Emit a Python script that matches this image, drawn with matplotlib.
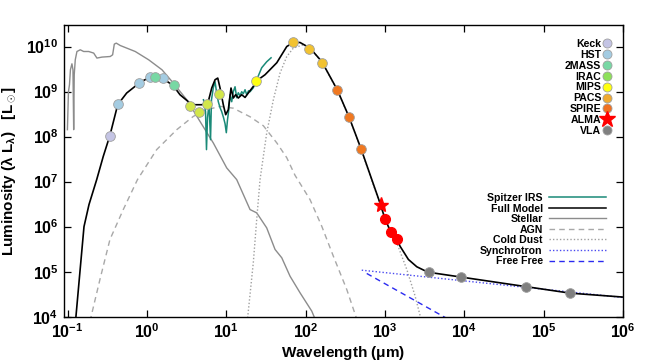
import numpy as np
import matplotlib
matplotlib.use("Agg")
import matplotlib.pyplot as plt
from matplotlib.lines import Line2D

plt.rcParams['font.family'] = ['Liberation Sans', 'DejaVu Sans']
plt.rcParams['font.weight'] = 'bold'
plt.rcParams['mathtext.fontset'] = 'custom'
plt.rcParams['mathtext.rm'] = 'Liberation Sans:bold'
plt.rcParams['mathtext.bf'] = 'Liberation Sans:bold'
plt.rcParams['mathtext.it'] = 'Liberation Sans:bold'
plt.rcParams['mathtext.default'] = 'bf'

# ---------------- photometry (wavelength in micron, luminosity in Lsun) -------------
keck_wl = [0.34]
keck_L = [1.05e8]
hst_wl = [0.43, 0.80, 1.09, 1.60]
hst_L = [5.2e8, 1.57e9, 2.05e9, 1.95e9]
twomass_wl = [1.26, 2.19]
twomass_L = [2.1e9, 1.39e9]
irac_wl = [3.48, 4.49, 5.76, 8.0]
irac_L = [4.8e8, 3.6e8, 5.37e8, 8.9e8]
mips_wl = [23.9]
mips_L = [1.71e9]
pacs_wl = [70, 110, 161]
pacs_L = [1.25e10, 8.9e9, 4.4e9]
spire_wl = [251, 352, 500]
spire_L = [1.08e9, 2.72e8, 5.3e7]
alma_wl = [885]
alma_L = [3.0e6]
mm_wl = [1000, 1183, 1410]
mm_L = [1.46e6, 7.7e5, 5.4e5]
vla_wl = [3565, 9120, 6.0e4, 2.16e5]
vla_L = [9.7e4, 7.5e4, 4.5e4, 3.4e4]

# ---------------- model curves (log10 micron, log10 Lsun) -------------
model_logwl = [-0.902, -0.895, -0.845, -0.794, -0.731, -0.634, -0.551, -0.467, -0.369, -0.256,
               -0.088, 0.038, 0.206,
               0.332, 0.416, 0.542, 0.605, 0.690, 0.744, 0.773, 0.816, 0.858, 0.892,
               0.921, 0.962, 0.992, 1.025, 1.059, 1.088, 1.118, 1.151, 1.194, 1.236,
               1.277, 1.340, 1.383, 1.488, 1.636, 1.762, 1.845, 1.929, 2.055, 2.203,
               2.400, 2.547, 2.699, 2.947, 3.001, 3.073, 3.149, 3.190, 3.295, 3.401,
               3.540, 3.968, 4.788, 5.334, 6.006]
model_logL = [3.83, 4.013, 5.0, 6.0, 6.49, 7.044, 7.561, 8.027, 8.707, 8.967,
              9.202, 9.322, 9.284,
              9.129, 8.929, 8.745, 8.707, 8.707, 8.729, 8.780, 9.078, 9.262, 9.299,
              9.078, 8.707, 8.486, 8.596, 9.078, 8.856, 8.929, 8.856, 8.929, 8.869,
              8.967, 9.113, 9.239, 9.373, 9.639, 10.000, 10.089, 10.089, 9.965, 9.667,
              9.033, 8.435, 7.725, 6.475, 6.164, 5.885, 5.730, 5.565, 5.271, 5.109,
              4.989, 4.878, 4.665, 4.523, 4.435]

stellar_logwl = [-1.003, -0.990, -0.977, -0.965, -0.946, -0.933, -0.924, -0.917, -0.904, -0.883,
                 -0.841, -0.798, -0.735, -0.672, -0.631, -0.567, -0.463, -0.433, -0.412, -0.387,
                 -0.337, -0.148, 0.021, 0.189, 0.332, 0.501, 0.668, 0.836, 1.005, 1.131,
                 1.299, 1.383, 1.509, 1.614, 1.699, 1.803, 1.929, 2.077, 2.131]
stellar_logL = [8.153, 8.996, 9.151, 9.483, 9.616, 9.483, 8.153, 9.373, 9.705, 9.889,
                9.927, 9.889, 9.889, 9.854, 9.743, 9.765, 9.778, 9.816, 10.053, 10.075,
                10.022, 9.889, 9.705, 9.483, 9.188, 8.818, 8.337, 7.858, 7.304, 7.044,
                6.379, 6.306, 5.973, 5.494, 5.308, 4.900, 4.532, 4.124, 3.896]

agn_logwl = [-0.719, -0.593, -0.467, -0.299, -0.120, 0.122, 0.375, 0.584, 0.753, 0.921,
             1.088, 1.299, 1.467, 1.636, 1.762, 1.866, 2.055, 2.203, 2.349, 2.518, 2.654]
agn_logL = [3.896, 4.827, 5.714, 6.379, 7.044, 7.710, 8.153, 8.448, 8.596, 8.670,
            8.630, 8.440, 8.240, 7.860, 7.530, 7.140, 6.601, 6.009, 5.344, 4.605, 3.896]

cold_logwl = [1.264, 1.340, 1.383, 1.425, 1.509, 1.593, 1.677, 1.762, 1.845, 1.971,
              2.055, 2.203, 2.400, 2.547, 2.699, 2.947, 3.073, 3.149, 3.275, 3.380, 3.461]
cold_logL = [3.896, 5.197, 6.157, 7.044, 8.080, 8.818, 9.410, 9.778, 9.965, 10.038,
             9.965, 9.660, 9.025, 8.425, 7.710, 6.450, 5.850, 5.641, 5.049, 4.457, 3.896]

sync_logwl = [2.707, 6.006]
sync_logL = [5.033, 4.425]

ff_logwl = [2.770, 3.846]
ff_logL = [4.960, 3.896]

irs_logwl = [0.712, 0.738, 0.750, 0.763, 0.782, 0.801, 0.813, 0.836, 0.858, 0.876,
             0.899, 0.921, 0.942, 0.965, 0.984, 1.000, 1.015, 1.028, 1.047, 1.068,
             1.088, 1.110, 1.131, 1.151, 1.173, 1.194, 1.214, 1.236, 1.257, 1.280,
             1.299, 1.340, 1.383, 1.446, 1.509, 1.564]
irs_logL = [8.818, 8.552, 7.710, 8.419, 8.729, 7.931, 8.818, 9.084, 9.217, 8.996,
            8.774, 8.641, 8.552, 8.419, 8.286, 8.086, 8.375, 8.552, 8.929, 8.774,
            8.996, 9.106, 8.863, 8.973, 8.907, 8.996, 8.951, 9.040, 8.929, 9.018,
            8.996, 9.084, 9.262, 9.528, 9.661, 9.749]

xticks = [1e-1, 1e0, 1e1, 1e2, 1e3, 1e4, 1e5, 1e6]
xticklabels = [r'$\mathbf{10^{-1}}$', r'$\mathbf{10^{0}}$', r'$\mathbf{10^{1}}$', r'$\mathbf{10^{2}}$',
               r'$\mathbf{10^{3}}$', r'$\mathbf{10^{4}}$', r'$\mathbf{10^{5}}$', r'$\mathbf{10^{6}}$']
yticks = [1e4, 1e5, 1e6, 1e7, 1e8, 1e9, 1e10]
yticklabels = [r'$\mathbf{10^{4}}$', r'$\mathbf{10^{5}}$', r'$\mathbf{10^{6}}$', r'$\mathbf{10^{7}}$',
               r'$\mathbf{10^{8}}$', r'$\mathbf{10^{9}}$', r'$\mathbf{10^{10}}$']

fig = plt.figure(figsize=(6.48, 3.61), dpi=100)
ax = fig.add_axes([0.0988, 0.1227, 0.8626, 0.808])


def P(a):
    return 10 ** np.asarray(a)


ax.plot(P(stellar_logwl), P(stellar_logL), color='#8c8c8c', lw=1.0, zorder=2)
ax.plot(P(agn_logwl), P(agn_logL), color='#a8a8a8', lw=1.0, ls=(0, (4, 3)), zorder=2)
ax.plot(P(cold_logwl), P(cold_logL), color='#a0a0a0', lw=1.0, ls=(0, (1, 1.5)), zorder=2)
ax.plot(P(sync_logwl), P(sync_logL), color='#4a4af0', lw=1.0, ls=(0, (1, 1.5)), zorder=2)
ax.plot(P(ff_logwl), P(ff_logL), color='#2a2af0', lw=1.0, ls=(0, (4, 3)), zorder=2)
ax.plot(P(irs_logwl), P(irs_logL), color='#1a8a78', lw=1.1, zorder=3)
ax.plot(P(model_logwl), P(model_logL), color='black', lw=1.2, zorder=4)

ms = 7
ec = '#a0a0a0'
pt = dict(ls='none', marker='o', ms=ms, mec=ec, mew=0.6, zorder=5)
ax.plot(keck_wl, keck_L, mfc='#c4c4e4', **pt)
ax.plot(hst_wl, hst_L, mfc='#a4cce2', **pt)
ax.plot(twomass_wl, twomass_L, mfc='#78d8a4', **pt)
ax.plot(irac_wl, irac_L, mfc='#d2e64a', **pt)
ax.plot(mips_wl, mips_L, mfc='#ffff10', **pt)
ax.plot(pacs_wl, pacs_L, mfc='#f2c230', **pt)
ax.plot(spire_wl, spire_L, mfc='#f07820', **pt)
ax.plot(mm_wl, mm_L, ls='none', marker='o', ms=ms, mfc='#ff0000', mec='#ff0000', zorder=5)
ax.plot(alma_wl, alma_L, ls='none', marker='*', ms=11, mfc='#ff0000', mec='#ff0000', zorder=6)
ax.plot(vla_wl, vla_L, mfc='#808080', **pt)

ax.set_xscale('log')
ax.set_yscale('log')
ax.set_xlim(0.09, 1e6)
ax.set_ylim(1e4, 3.0e10)
ax.set_xticks(xticks)
ax.set_xticklabels(xticklabels)
ax.set_yticks(yticks)
ax.set_yticklabels(yticklabels)
ax.minorticks_off()
ax.tick_params(which='both', direction='in', top=True, right=True, length=5, width=0.9,
               labelsize=11.5, pad=4)
for s in ax.spines.values():
    s.set_linewidth(1.0)

ax.set_xlabel(r'Wavelength ($\mu$m)', fontsize=11, fontweight='bold', labelpad=2)
ax.set_ylabel(r'Luminosity ($\lambda$ L$_\lambda$)   [L$_\odot$]', fontsize=11,
              fontweight='bold', labelpad=6)

# legend of instruments
inst_names = ['Keck', 'HST', '2MASS', 'IRAC', 'MIPS', 'PACS', 'SPIRE', 'ALMA', 'VLA']
inst_colors = ['#c4c4e4', '#a4cce2', '#78d8a4', '#8ee05a', '#ffff10', '#f0aa30', '#f07020',
               '#ff0000', '#808080']
h1 = []
for n, c in zip(inst_names, inst_colors):
    if n == 'ALMA':
        h1.append(Line2D([], [], ls='none', marker='*', ms=12, mfc=c, mec=c))
    else:
        h1.append(Line2D([], [], ls='none', marker='o', ms=6.5, mfc=c, mec=ec, mew=0.6))
leg1 = ax.legend(h1, inst_names, loc='upper right', bbox_to_anchor=(0.980, 0.952),
                 frameon=False, markerfirst=False, handlelength=0.9, handletextpad=0.1,
                 labelspacing=0.08, borderaxespad=0, borderpad=0,
                 prop={'weight': 'bold', 'size': 7.6})
ax.add_artist(leg1)

line_names = ['Spitzer IRS', 'Full Model', 'Stellar', 'AGN', 'Cold Dust', 'Synchrotron', 'Free Free']
h2 = [Line2D([], [], color='#1a8a78', lw=1.1),
      Line2D([], [], color='black', lw=1.1),
      Line2D([], [], color='#8c8c8c', lw=1.0),
      Line2D([], [], color='#a8a8a8', lw=1.0, ls=(0, (4, 3))),
      Line2D([], [], color='#a0a0a0', lw=1.0, ls=(0, (1, 1.5))),
      Line2D([], [], color='#4a4af0', lw=1.0, ls=(0, (1, 1.5))),
      Line2D([], [], color='#2a2af0', lw=1.0, ls=(0, (4, 3)))]
leg2 = ax.legend(h2, line_names, loc='upper right', bbox_to_anchor=(0.9696, 0.424),
                 frameon=False, markerfirst=False, handlelength=5.4, handletextpad=0.6,
                 labelspacing=0.05, borderaxespad=0, borderpad=0,
                 prop={'weight': 'bold', 'size': 7.6})

fig.savefig('out.png', dpi=100)
